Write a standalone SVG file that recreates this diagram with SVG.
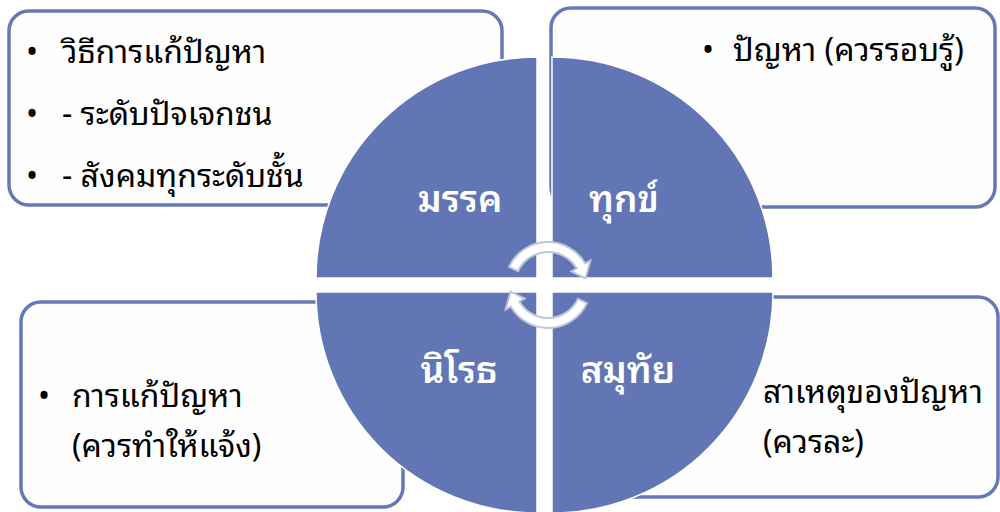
<svg xmlns="http://www.w3.org/2000/svg" width="1000" height="512" viewBox="0 0 1000 512">
<style>
.box{fill:#FEFEFE;stroke:#6579B8;stroke-width:3.5}
.q{fill:#6276B5;stroke:#FFFFFF;stroke-width:1.5}
.t{font-family:"Noto Sans Thai Looped","Loma","Garuda","Tahoma","Leelawadee UI","Noto Sans Thai","Noto Sans",sans-serif;font-size:32px;fill:#000000}
.l{font-family:"Noto Sans Thai Looped","Loma","Garuda","Tahoma","Leelawadee UI","Noto Sans Thai","Noto Sans",sans-serif;font-size:37px;font-weight:600;fill:#FFFFFF;text-anchor:middle}
.arr{fill:#FFFFFF;stroke:#BFC6DE;stroke-width:2}
</style>
<rect width="1000" height="512" fill="#FFFFFF"/>
<g id="box-marga">
<rect class="box" x="9" y="11" width="493" height="194" rx="20"/>
<text class="t" x="26" y="63">•</text><text class="t" x="62" y="63">วิธีการแก้ปัญหา</text>
<text class="t" x="26" y="125">•</text><text class="t" x="62" y="125">- ระดับปัจเจกชน</text>
<text class="t" x="26" y="187">•</text><text class="t" x="62" y="187">- สังคมทุกระดับชั้น</text>
</g>
<g id="box-dukkha">
<rect class="box" x="551" y="8" width="444" height="199" rx="20"/>
<text class="t" x="702" y="61">•</text><text class="t" x="733" y="61">ปัญหา (ควรรอบรู้)</text>
</g>
<g id="box-nirodha">
<rect class="box" x="21" y="302" width="382" height="205" rx="20"/>
<text class="t" x="38" y="407">•</text><text class="t" x="72" y="407">การแก้ปัญหา</text>
<text class="t" x="72" y="457">(ควรทำให้แจ้ง)</text>
</g>
<g id="box-samudaya">
<rect class="box" x="555" y="297" width="443" height="200" rx="20"/>
<text class="t" x="763" y="403">สาเหตุของปัญหา</text>
<text class="t" x="763" y="453">(ควรละ)</text>
</g>
<g id="q-marga"><path class="q" d="M537 278 L316 278 A221 221 0 0 1 537 57 Z"/><text class="l" x="460" y="212">มรรค</text></g>
<g id="q-dukkha"><path class="q" d="M552 278 L552 57 A221 221 0 0 1 773 278 Z"/><text class="l" x="624" y="212">ทุกข์</text></g>
<g id="q-nirodha"><path class="q" d="M537 292 L537 513 A221 221 0 0 1 316 292 Z"/><text class="l" x="459" y="383">นิโรธ</text></g>
<g id="q-samudaya"><path class="q" d="M552 292 L773 292 A221 221 0 0 1 552 513 Z"/><text class="l" x="628" y="383">สมุทัย</text></g>
<g id="connectors">
<path class="arr" d="M509.0 266.8 A43 43 0 0 1 585.2 263.5 L590.4 260.5 L585.4 278.4 L571.4 271.5 L576.6 268.5 A33 33 0 0 0 518.1 271.1 Z"/>
<path class="arr" d="M587.0 303.2 A43 43 0 0 1 510.8 306.5 L505.6 309.5 L510.6 291.6 L524.6 298.5 L519.4 301.5 A33 33 0 0 0 577.9 298.9 Z"/>
</g>
</svg>
